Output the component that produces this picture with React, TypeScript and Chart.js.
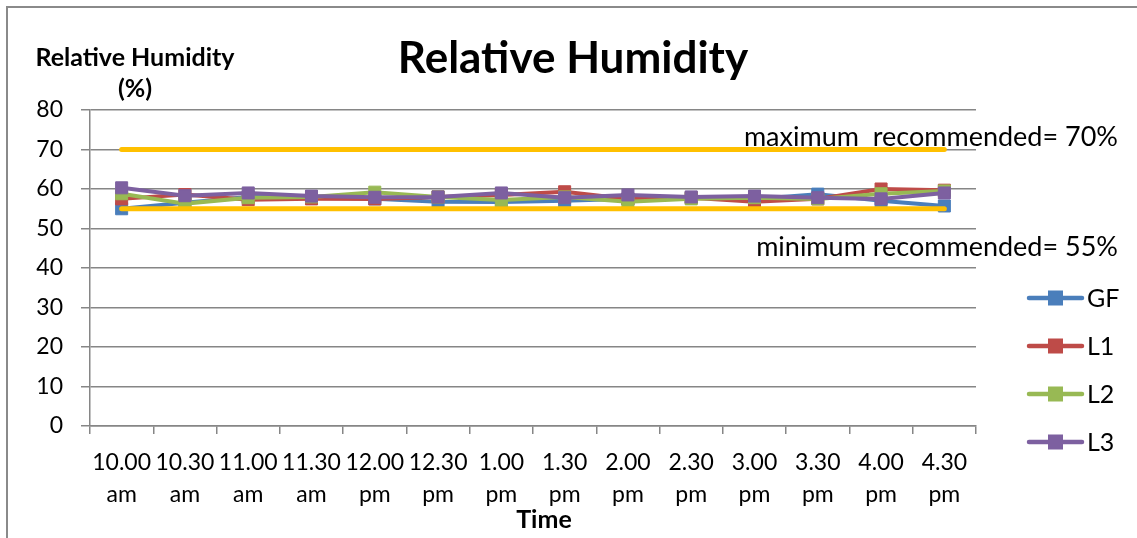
import React, { useEffect, useRef } from "react";
import { Chart, registerables } from "chart.js";

Chart.register(...registerables);

const FONT = 'Lato, "Open Sans", sans-serif';

const categories: string[][] = [
  ["10.00", "am"], ["10.30", "am"], ["11.00", "am"], ["11.30", "am"],
  ["12.00", "pm"], ["12.30", "pm"], ["1.00", "pm"], ["1.30", "pm"],
  ["2.00", "pm"], ["2.30", "pm"], ["3.00", "pm"], ["3.30", "pm"],
  ["4.00", "pm"], ["4.30", "pm"],
];

const seriesNames = ["GF", "L1", "L2", "L3"];
const seriesColors = ["#4A7EBB", "#BE4B48", "#98B954", "#7D60A0"];

const gfValues = [55, 56.5, 58, 58, 57.5, 56.8, 56.7, 57, 57.5, 57.8, 57.5, 58.7, 57, 55.7];
const l1Values = [57.5, 58.6, 57.3, 57.5, 57.5, 58, 58.5, 59.3, 57.5, 57.8, 56.8, 57.5, 60, 59.7];
const l2Values = [58.8, 56.3, 57.8, 58, 59.2, 58, 57.2, 58, 56.8, 57.5, 57.8, 57.5, 58.8, 59.5];
const l3Values = [60.3, 58.3, 59, 58.2, 57.9, 58, 59, 57.8, 58.5, 58, 58.2, 57.8, 57.5, 59];

const maxRecommended = 70;
const minRecommended = 55;
const limitColor = "#FFC000";

const yTicks = [0, 10, 20, 30, 40, 50, 60, 70, 80];

const chartTitle = "Relative Humidity";
const yTitleLines = ["Relative Humidity", "(%)"];
const xTitle = "Time";
const maxLabel = "maximum  recommended= 70%";
const minLabel = "minimum recommended= 55%";

const GRID = "#868686";

const overlayPlugin = {
  id: "overlayText",
  afterDraw(chart: any) {
    const ctx = chart.ctx as CanvasRenderingContext2D;
    const ys = chart.scales.y;
    ctx.save();
    ctx.fillStyle = "#000";
    ctx.textBaseline = "middle";

    // chart title
    ctx.textAlign = "center";
    ctx.font = `bold 44px ${FONT}`;
    ctx.fillText(chartTitle, 563, 49);

    // y axis title (horizontal)
    ctx.font = `bold 25px ${FONT}`;
    ctx.fillText(yTitleLines[0], 125, 48);
    ctx.fillText(yTitleLines[1], 125, 79);

    // x axis title
    ctx.fillText(xTitle, 534, 510);

    // limit labels
    ctx.textAlign = "right";
    ctx.font = `27px ${FONT}`;
    ctx.fillText(maxLabel, 1108, ys.getPixelForValue(maxRecommended) - 12);
    ctx.fillText(minLabel, 1108, ys.getPixelForValue(minRecommended) + 39);

    // legend
    const legendY = [288, 336, 384, 432];
    seriesNames.forEach((name, i) => {
      const cy = legendY[i];
      ctx.strokeStyle = seriesColors[i];
      ctx.lineWidth = 4.5;
      ctx.lineCap = "round";
      ctx.beginPath();
      ctx.moveTo(1019, cy);
      ctx.lineTo(1072, cy);
      ctx.stroke();
      ctx.fillStyle = seriesColors[i];
      ctx.fillRect(1038, cy - 7.5, 15, 15);
      ctx.fillStyle = "#000";
      ctx.textAlign = "left";
      ctx.font = `25px ${FONT}`;
      ctx.fillText(name, 1077, cy + 1);
    });
    ctx.restore();
  },
};

export default function App() {
  const canvasRef = useRef<HTMLCanvasElement | null>(null);

  useEffect(() => {
    document.documentElement.style.overflow = "hidden";
    if (!canvasRef.current) return;
    const seriesData = [gfValues, l1Values, l2Values, l3Values];
    const datasets: any[] = seriesNames.map((name, i) => ({
      label: name,
      data: seriesData[i],
      borderColor: seriesColors[i],
      backgroundColor: seriesColors[i],
      borderWidth: 4,
      pointStyle: "rect",
      pointRadius: 8.5,
      pointBorderWidth: 1,
      pointBorderColor: seriesColors[i],
      pointBackgroundColor: seriesColors[i],
      tension: 0,
      order: 4 - i,
    }));
    datasets.push(
      {
        label: "max",
        data: categories.map(() => maxRecommended),
        borderColor: limitColor,
        borderWidth: 5,
        borderCapStyle: "round",
        pointRadius: 0,
        order: -1,
      },
      {
        label: "min",
        data: categories.map(() => minRecommended),
        borderColor: limitColor,
        borderWidth: 5,
        borderCapStyle: "round",
        pointRadius: 0,
        order: -1,
      }
    );

    const chart = new Chart(canvasRef.current, {
      type: "line",
      data: { labels: categories, datasets },
      options: {
        responsive: false,
        animation: false,
        layout: { padding: { top: 100, right: 161, left: 0, bottom: 0 } },
        plugins: {
          legend: { display: false },
          tooltip: { enabled: false },
          title: { display: false },
        },
        scales: {
          x: {
            type: "category",
            offset: true,
            grid: {
              offset: true,
              drawOnChartArea: false,
              drawTicks: true,
              tickLength: 8,
              color: GRID,
              lineWidth: 1.5,
            },
            border: { color: GRID, width: 1.5 },
            ticks: {
              color: "#000",
              padding: 12,
              maxRotation: 0,
              autoSkip: false,
              font: { family: FONT, size: 23, lineHeight: 1.4 },
            },
            afterFit: (s: any) => {
              s.height = 112;
            },
          },
          y: {
            min: 0,
            max: 80,
            afterBuildTicks: (s: any) => {
              s.ticks = yTicks.map((v) => ({ value: v }));
            },
            grid: {
              color: GRID,
              lineWidth: 1.5,
              tickLength: 9,
            },
            border: { color: GRID, width: 1.5 },
            ticks: {
              color: "#000",
              padding: 18,
              font: { family: FONT, size: 23 },
            },
            afterFit: (s: any) => {
              s.width = 80;
            },
          },
        },
      },
      plugins: [overlayPlugin],
    });
    return () => chart.destroy();
  }, []);

  return (
    <div
      style={{
        position: "fixed",
        left: 6,
        top: 6,
        width: 1131,
        height: 532,
        paddingTop: 2,
        paddingLeft: 2,
        borderLeft: "2px solid #8a8a8a",
        borderTop: "2px solid #8a8a8a",
        boxSizing: "border-box",
        overflow: "hidden",
        background: "#fff",
      }}
    >
      <canvas
        ref={canvasRef}
        width={1127}
        height={528}
        style={{ display: "block", width: 1127, height: 528 }}
      />
    </div>
  );
}
